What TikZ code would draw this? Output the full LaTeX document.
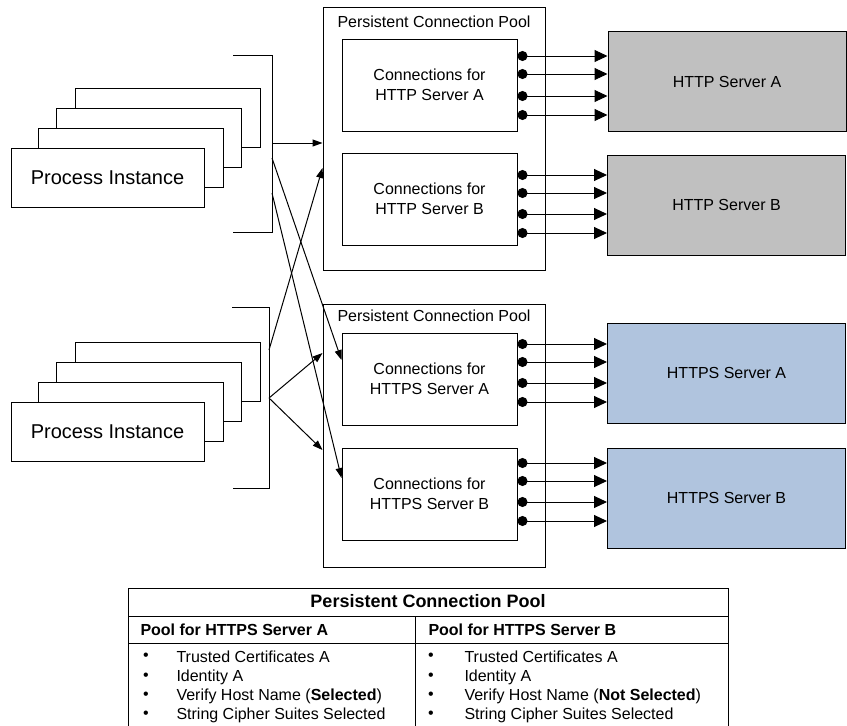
\documentclass[tikz,border=0pt]{standalone}
\usepackage{fontspec}
\setmainfont{Liberation Sans}
\usetikzlibrary{arrows.meta}
\definecolor{srvgrey}{RGB}{192,192,192}
\definecolor{srvblue}{RGB}{176,196,222}
\begin{document}
\begin{tikzpicture}[
  x=1pt, y=-1pt,
  line width=1pt,
  font=\fontsize{16}{20}\selectfont,
  box/.style={rectangle, draw, fill=white, inner sep=0pt, align=center},
  proc/.style={box, minimum width=193pt, minimum height=59pt, font=\fontsize{20}{24}\selectfont},
  pool/.style={box, minimum width=222pt, minimum height=263pt},
  conn/.style={box, minimum width=175pt, minimum height=92pt},
  server/.style={box, minimum width=238pt, minimum height=100pt},
  link/.style={{Circle[length=10pt]}-{Triangle[length=13pt,width=12pt]}},
  feed/.style={-{Triangle[length=10pt,width=7pt]}},
  txt/.style={inner sep=0pt, anchor=west},
  colhead/.style={txt, font=\fontsize{16}{20}\selectfont\bfseries}
]
\useasboundingbox (0,0) rectangle (847,726);

\node[pool] (poolhttp) at (434,139) {};
\node[pool] (poolhttps) at (434,436) {};
\node[txt, anchor=base west] (lblhttp) at (337,27) {Persistent Connection Pool};
\node[txt, anchor=base west] (lblhttps) at (337,321) {Persistent Connection Pool};

\node[conn] (connhttpa) at (429.5,85) {Connections for\\HTTP Server A};
\node[conn] (connhttpb) at (429.5,199) {Connections for\\HTTP Server B};
\node[conn] (connhttpsa) at (429.5,379) {Connections for\\HTTPS Server A};
\node[conn] (connhttpsb) at (429.5,494) {Connections for\\HTTPS Server B};

\node[server, fill=srvgrey] (srvhttpa) at (727,81.5) {HTTP Server A};
\node[server, fill=srvgrey] (srvhttpb) at (726.5,205) {HTTP Server B};
\node[server, fill=srvblue] (srvhttpsa) at (726.5,373) {HTTPS Server A};
\node[server, fill=srvblue] (srvhttpsb) at (726.5,498) {HTTPS Server B};

\foreach \y in {56,74,96,115}
  \draw[link] (connhttpa.east |- 0,\y) -- (srvhttpa.west |- 0,\y);
\foreach \y in {175,193,214,233}
  \draw[link] (connhttpb.east |- 0,\y) -- (srvhttpb.west |- 0,\y);
\foreach \y in {344,362,383,402}
  \draw[link] (connhttpsa.east |- 0,\y) -- (srvhttpsa.west |- 0,\y);
\foreach \y in {463,481,502,521}
  \draw[link] (connhttpsb.east |- 0,\y) -- (srvhttpsb.west |- 0,\y);

\foreach \k in {2,1,0} {
  \draw[fill=white] (38+18.5*\k,128-20*\k) rectangle ++(185,59);
  \draw[fill=white] (38+18.5*\k,382-20*\k) rectangle ++(185,59);
}
\node[proc] (procup) at (107.5,177.5) {Process Instance};
\node[proc] (procdown) at (107.5,432) {Process Instance};

\draw (233,55) -| (272,232) -- (233,232);
\draw (232,307) -| (269,488) -- (233,488);
\coordinate (upa) at (272,143);
\coordinate (upb) at (272,158);
\coordinate (upc) at (272,193);
\coordinate (downa) at (269,350);
\coordinate (downb) at (269,398);

\draw[feed] (upa) -- (poolhttp.west |- upa);
\draw[feed] (upb) -- (connhttpsa.west |- 0,360);
\draw[feed] (upc) -- (connhttpsb.west |- 0,478);
\draw[feed] (downa) -- (poolhttp.west |- 0,168);
\draw[feed] (downb) -- (poolhttps.west |- 0,353);
\draw[feed] (downb) -- (poolhttps.west |- 0,450);

\draw (128,726) -- (128,588) -- (728,588) -- (728,726);
\draw (128,616) -- (728,616);
\draw (128,643) -- (728,643);
\draw (415,616) -- (415,726);
\node[inner sep=0pt, font=\fontsize{18}{22}\selectfont\bfseries] (tblhead) at (428,601) {Persistent Connection Pool};
\node[colhead] (cola) at (140,629.5) {Pool for HTTPS Server A};
\node[colhead] (colb) at (428,629.5) {Pool for HTTPS Server B};
\foreach \y/\t [count=\i] in {657/Trusted Certificates A, 677/Identity A, 696/{Verify Host Name (\textbf{Selected})}, 715/String Cipher Suites Selected} {
  \node[inner sep=0pt] (bula\i) at (146,\y) {\textbullet};
  \node[txt] (itema\i) at (176,\y) {\t};
}
\foreach \y/\t [count=\i] in {657/Trusted Certificates A, 677/Identity A, 696/{Verify Host Name (\textbf{Not Selected})}, 715/String Cipher Suites Selected} {
  \node[inner sep=0pt] (bulb\i) at (431,\y) {\textbullet};
  \node[txt] (itemb\i) at (464,\y) {\t};
}
\end{tikzpicture}
\end{document}
